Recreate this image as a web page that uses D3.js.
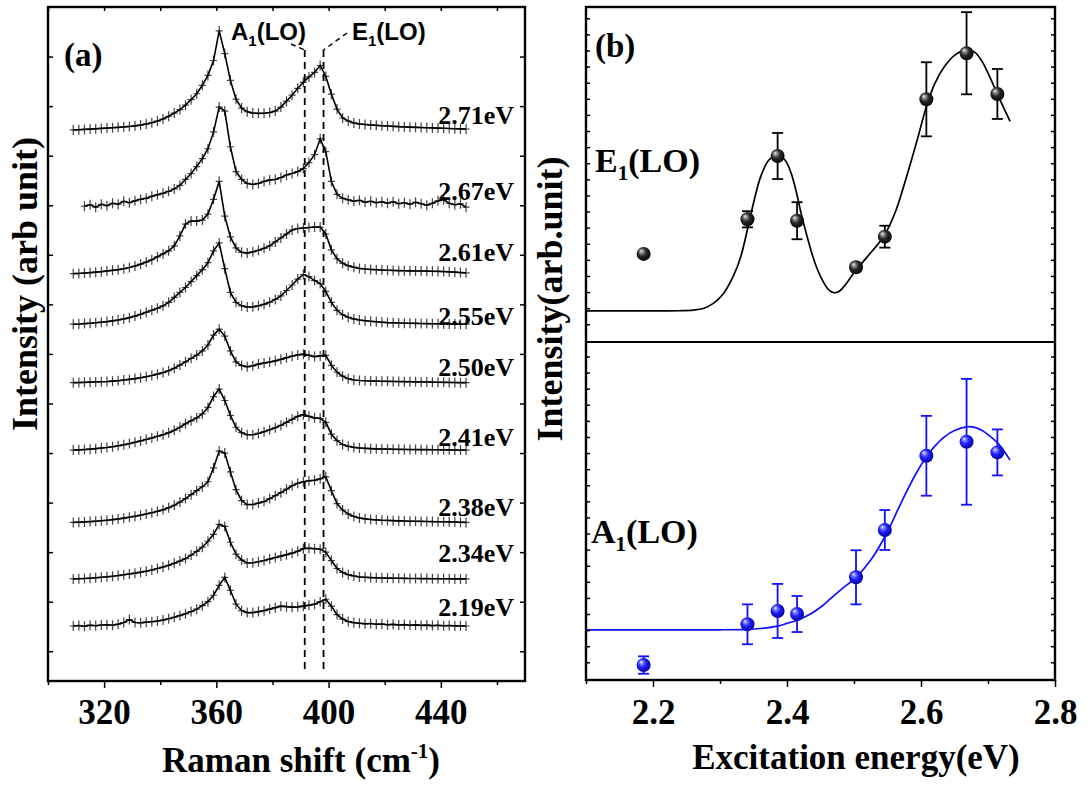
<!DOCTYPE html>
<html>
<head>
<meta charset="utf-8">
<script src="https://cdn.jsdelivr.net/npm/d3@7"></script>
<style>
  body { margin: 0; background: #fff; }
</style>
</head>
<body>
<svg id="chart" width="1091" height="785"></svg>
<script>
// ---- panel (a) data: Raman spectra, counts above each baseline ----
const ramanShift = [309,311,313,315,317,319,321,323,325,327,329,331,333,335,337,339,341,343,345,347,
  349,351,353,355,357,359,361,363,365,367,369,371,373,375,377,379,381,383,385,387,
  389,391,393,395,397,399,401,403,405,407,409,411,413,415,417,419,421,423,425,427,
  429,431,433,435,437,439,441,443,445,447,449];

const excitationLabels = ["2.71eV","2.67eV","2.61eV","2.55eV","2.50eV","2.41eV","2.38eV","2.34eV","2.19eV"];
const baselineOffsets = [5260, 4490, 3810, 3300, 2710, 2030, 1300, 730, 255];

const spec271 = [0,2,5,8,11,15,18,22,26,30, 35,41,49,59,72,89,110,138,170,205,
  250,305,365,450,550,700,1000,770,500,310, 220,183,170,167,168,175,190,230,290,350,
  420,480,535,580,650,540,360,210,120,90, 70,60,55,50,46,42,39,36,33,30,
  28,26,24,22,20,18,16,14,12,10, 9];
const spec267 = [null,null,0,15,-10,20,5,30,20,50, 35,55,70,80,100,115,130,150,175,210,
  270,330,400,480,580,750,1000,960,600,350, 270,230,220,230,250,265,270,290,315,330,
  350,380,440,520,680,550,250,120,80,65, 50,60,40,50,35,45,30,45,25,35,
  20,40,25,10,30,55,65,30,15,25, -10];
const spec261 = [0,2,6,10,15,20,27,33,40,50, 62,77,95,117,140,170,200,230,280,380,
  500,530,530,540,600,750,930,580,370,260, 215,207,220,235,255,280,320,360,400,440,
  455,460,465,470,470,400,240,150,105,80, 65,52,46,42,39,36,34,32,30,29,
  28,27,26,25,24,23,21,18,15,11, 8];
const spec255 = [0,2,6,10,15,20,26,33,42,53, 66,82,100,120,140,160,185,220,270,320,
  370,430,490,550,620,740,820,560,320,220, 185,173,175,185,200,220,250,285,340,395,
  455,500,480,440,410,330,220,140,95,70, 53,42,35,29,24,20,16,14,12,10,
  9,8,7,6,5,4,3,2,1,0, 0];
const spec250 = [0,1,3,5,7,9,11,15,20,26, 33,41,50,60,72,86,102,120,145,177,
  210,245,277,320,380,480,540,470,320,210, 172,160,170,187,198,208,220,235,252,267,
  280,287,275,263,270,275,175,105,65,40, 27,22,19,17,15,14,13,12,11,10,
  9,8,7,6,5,4,3,2,1,0, 0];
const spec241 = [0,2,5,9,14,20,26,34,43,53, 65,78,92,107,122,139,155,175,200,230,
  265,295,325,365,430,540,615,500,350,230, 175,155,155,168,185,205,225,250,280,310,
  340,357,340,325,320,280,160,95,55,38, 27,21,17,14,12,10,9,8,7,6,
  5,5,4,4,3,3,2,2,1,0, 0];
const spec238 = [0,2,5,8,12,17,22,28,35,43, 52,62,73,85,98,112,127,148,173,205,
  240,280,320,360,410,550,720,700,510,330, 220,180,180,195,210,240,270,300,335,370,
  395,410,420,425,440,460,320,190,125,85, 60,45,36,30,26,22,20,18,16,14,
  12,11,10,9,8,7,6,5,4,2, 0];
const spec234 = [0,2,4,7,11,16,21,27,34,42, 50,58,68,78,90,105,120,138,158,180,
  205,240,277,320,380,450,550,530,370,250, 190,160,163,173,185,200,215,230,245,260,
  280,305,310,305,300,270,185,105,65,43, 30,20,16,13,11,9,8,7,6,5,
  4,4,3,3,2,2,1,1,0,0, 0];
const spec219 = [0,5,-3,8,3,10,12,8,18,35, 65,35,32,38,43,50,60,73,88,105,
  123,145,170,205,245,310,410,490,360,220, 155,135,135,145,155,170,185,200,195,190,
  193,200,210,220,245,270,200,115,70,45, 33,27,22,25,18,20,13,16,10,14,
  8,11,6,9,4,7,3,5,1,3, 0];
const spectra = [spec271, spec267, spec261, spec255, spec250, spec241, spec238, spec234, spec219];

const ramanTicks = [320, 360, 400, 440];
const ramanMinorTicks = [300, 340, 380, 420, 460];
const modeShiftA1 = 391.5;
const modeShiftE1 = 398.2;

// ---- panel (b) data: resonance profiles ----
const energy = [2.186, 2.341, 2.386, 2.415, 2.503, 2.546, 2.608, 2.668, 2.714];
const intensityE1 = [4.37, 6.52, 10.45, 6.43, 3.54, 5.44, 13.97, 16.83, 14.30];
const errorE1 = [0, 0.5, 1.43, 1.15, 0.2, 0.68, 2.3, 2.55, 1.55];
const intensityA1 = [-0.17, 2.36, 3.19, 3.0, 5.28, 8.22, 12.83, 13.7, 13.04];
const errorA1 = [0.54, 1.24, 1.68, 1.12, 1.68, 1.24, 2.48, 3.91, 1.43];

const fitEnergyE1 = [2.10,2.20,2.24,2.26,2.275,2.29,2.305,2.32,2.331,2.341,2.351,2.361,2.373,2.386,2.397,
  2.406,2.414,2.421,2.431,2.441,2.452,2.462,2.470,2.478,2.488,2.500,2.52,2.545,2.562,2.578,2.594,2.608,
  2.62,2.635,2.65,2.668,2.68,2.69,2.70,2.715,2.725,2.733];
const fitE1 = [0.83,0.83,0.84,0.88,0.98,1.3,1.9,3.0,4.2,5.9,7.7,9.2,10.2,10.51,10.2,
  9.4,8.2,6.9,5.3,3.9,2.8,2.15,1.96,2.05,2.5,3.2,4.2,5.5,7.0,9.1,11.4,13.5,
  14.9,16.0,16.7,17.05,16.9,16.4,15.6,14.2,13.3,12.6];
const fitEnergyA1 = [2.10,2.20,2.30,2.341,2.36,2.386,2.40,2.416,2.435,2.451,2.465,2.481,2.503,2.525,
  2.546,2.57,2.59,2.608,2.62,2.635,2.65,2.668,2.68,2.69,2.70,2.715,2.733];
const fitA1 = [2.01,2.01,2.02,2.05,2.1,2.25,2.42,2.63,3.0,3.45,3.95,4.53,5.28,6.35,
  7.8,9.88,11.53,12.77,13.4,14.01,14.4,14.63,14.6,14.43,14.15,13.6,12.56];

const energyTicks = [2.2, 2.4, 2.6, 2.8];
const energyMinorTicks = [2.1, 2.3, 2.5, 2.7];

// ---- drawing ----
const serif = "'Liberation Serif','Times New Roman',serif";
const sans = "'Liberation Sans',Arial,sans-serif";
const blue = "#1010ff";

var svg = d3.select("#chart");
var defs = svg.append("defs");

function ballGradient(id, stops) {
  var g = defs.append("radialGradient").attr("id", id)
    .attr("cx", "45%").attr("cy", "45%").attr("r", "60%")
    .attr("fx", "32%").attr("fy", "28%");
  stops.forEach(s => g.append("stop").attr("offset", s[0]).attr("stop-color", s[1]));
}
ballGradient("ballBlack", [["0%", "#f4f4f4"], ["18%", "#9a9a9a"], ["50%", "#2a2a2a"], ["100%", "#000"]]);
ballGradient("ballBlue", [["0%", "#ffffff"], ["18%", "#8a8aff"], ["50%", "#1f1fff"], ["100%", "#00008c"]]);

function styleAxis(g, fontSize) {
  g.select(".domain").remove();
  g.selectAll(".tick line").attr("stroke", "#000").attr("stroke-width", 1.5);
  g.selectAll(".tick text")
    .attr("font-family", serif)
    .attr("font-size", fontSize)
    .attr("font-weight", "bold")
    .attr("fill", "#000");
}

// ===== panel (a) =====
var xA = d3.scaleLinear().domain([300, 470]).range([48, 525]);
var yA = d3.scaleLinear().domain([-300, 6500]).range([681, 7]);
var gA = svg.append("g");

var cross = "M-3.5,0H3.5M0,-5V5";
var spectrumLine = d3.line()
  .x(d => xA(d.x))
  .y(d => yA(d.y));

spectra.forEach(function (s, i) {
  var pts = ramanShift
    .map((x, j) => ({x: x, v: s[j]}))
    .filter(d => d.v != null)
    .map(d => ({x: d.x, y: baselineOffsets[i] + d.v}));

  gA.append("g")
    .selectAll("path")
    .data(pts)
    .join("path")
    .attr("d", cross)
    .attr("transform", d => "translate(" + xA(d.x) + "," + yA(d.y) + ")")
    .attr("stroke", "#444")
    .attr("stroke-width", 1.2)
    .attr("fill", "none");

  gA.append("path")
    .datum(pts)
    .attr("d", spectrumLine)
    .attr("fill", "none")
    .attr("stroke", "#000")
    .attr("stroke-width", 1.6);
});

// spectrum labels (text layout only)
var labelY = [115, 191, 252, 316, 367, 437, 507, 553, 607];
gA.selectAll(".elabel")
  .data(excitationLabels)
  .join("text")
  .attr("class", "elabel")
  .attr("x", 514)
  .attr("y", (d, i) => labelY[i])
  .attr("dy", "0.35em")
  .attr("text-anchor", "end")
  .attr("font-family", serif)
  .attr("font-weight", "bold")
  .attr("font-size", 26)
  .text(d => d);

// dashed mode markers
var dash = "7,5";
[modeShiftA1, modeShiftE1].forEach(function (m) {
  gA.append("line")
    .attr("x1", xA(m)).attr("x2", xA(m))
    .attr("y1", 50).attr("y2", 672)
    .attr("stroke", "#000").attr("stroke-width", 1.8)
    .attr("stroke-dasharray", dash);
});
gA.append("line")
  .attr("x1", 291).attr("y1", 44)
  .attr("x2", xA(modeShiftA1)).attr("y2", 50)
  .attr("stroke", "#000").attr("stroke-width", 1.5).attr("stroke-dasharray", "5,4");
gA.append("line")
  .attr("x1", 347).attr("y1", 33)
  .attr("x2", xA(modeShiftE1)).attr("y2", 50)
  .attr("stroke", "#000").attr("stroke-width", 1.5).attr("stroke-dasharray", "5,4");

function modeLabel(g, x, y, letter, size, subSize, shift, family, weight) {
  var t = g.append("text")
    .attr("x", x).attr("y", y)
    .attr("font-family", family)
    .attr("font-weight", weight)
    .attr("font-size", size);
  t.append("tspan").text(letter);
  t.append("tspan").attr("font-size", subSize).attr("dy", shift).text("1");
  t.append("tspan").attr("dy", -shift).text("(LO)");
  return t;
}
modeLabel(gA, 231, 40, "A", 24, 15, 6, sans, "bold");
modeLabel(gA, 352, 40, "E", 24, 15, 6, sans, "bold");

// axes of panel (a)
gA.append("g")
  .attr("transform", "translate(0,681)")
  .call(d3.axisBottom(xA).tickValues(ramanTicks).tickSize(7).tickPadding(11).tickFormat(d3.format("d")))
  .call(g => styleAxis(g, 35));
gA.append("g")
  .attr("transform", "translate(0,681)")
  .call(d3.axisBottom(xA).tickValues(ramanMinorTicks).tickSize(4).tickFormat(""))
  .call(g => styleAxis(g, 35));
gA.append("g")
  .attr("transform", "translate(0,7)")
  .call(d3.axisBottom(xA).tickValues(ramanTicks.concat(ramanMinorTicks)).tickSize(4).tickFormat(""))
  .call(g => styleAxis(g, 35));
var intensityTicks = d3.range(0, 6001, 500);
gA.append("g")
  .attr("transform", "translate(48,0)")
  .call(d3.axisRight(yA).tickValues(intensityTicks).tickSize(5).tickFormat(""))
  .call(g => styleAxis(g, 35));
gA.append("g")
  .attr("transform", "translate(525,0)")
  .call(d3.axisLeft(yA).tickValues(intensityTicks).tickSize(5).tickFormat(""))
  .call(g => styleAxis(g, 35));

gA.append("rect")
  .attr("x", 48).attr("y", 7)
  .attr("width", 477).attr("height", 674)
  .attr("fill", "none").attr("stroke", "#000").attr("stroke-width", 2.4);

gA.append("text")
  .attr("x", 64).attr("y", 66)
  .attr("font-family", serif).attr("font-weight", "bold").attr("font-size", 33)
  .text("(a)");

var xTitleA = gA.append("text")
  .attr("x", 301).attr("y", 772)
  .attr("text-anchor", "middle")
  .attr("font-family", serif).attr("font-weight", "bold").attr("font-size", 35);
xTitleA.append("tspan").text("Raman shift (cm");
xTitleA.append("tspan").attr("font-size", 21).attr("dy", -14).text("-1");
xTitleA.append("tspan").attr("dy", 14).text(")");

gA.append("text")
  .attr("transform", "translate(37,284) rotate(-90)")
  .attr("text-anchor", "middle")
  .attr("font-family", serif).attr("font-weight", "bold").attr("font-size", 36)
  .text("Intensity (arb unit)");

// ===== panel (b) =====
var xB = d3.scaleLinear().domain([2.1, 2.8]).range([586, 1055]);
var yE = d3.scaleLinear().domain([-1.1, 19.7]).range([342, 7]);
var yL = d3.scaleLinear().domain([-1.1, 19.9]).range([680, 342]);
var gB = svg.append("g");

function drawProfile(yScale, fitX, fitY, values, errors, color, fill) {
  var fit = fitX.map((x, i) => ({x: x, y: fitY[i]}));
  gB.append("path")
    .datum(fit)
    .attr("d", d3.line().x(d => xB(d.x)).y(d => yScale(d.y)).curve(d3.curveCatmullRom.alpha(0.5)))
    .attr("fill", "none")
    .attr("stroke", color)
    .attr("stroke-width", 1.7);

  var pts = energy.map((e, i) => ({x: e, y: values[i], err: errors[i]}));
  var bars = gB.append("g")
    .selectAll("g")
    .data(pts.filter(d => d.err > 0))
    .join("g")
    .attr("stroke", color)
    .attr("stroke-width", 1.8);
  bars.append("line")
    .attr("x1", d => xB(d.x)).attr("x2", d => xB(d.x))
    .attr("y1", d => yScale(d.y - d.err)).attr("y2", d => yScale(d.y + d.err));
  bars.append("line")
    .attr("x1", d => xB(d.x) - 5.5).attr("x2", d => xB(d.x) + 5.5)
    .attr("y1", d => yScale(d.y + d.err)).attr("y2", d => yScale(d.y + d.err));
  bars.append("line")
    .attr("x1", d => xB(d.x) - 5.5).attr("x2", d => xB(d.x) + 5.5)
    .attr("y1", d => yScale(d.y - d.err)).attr("y2", d => yScale(d.y - d.err));

  gB.append("g")
    .selectAll("circle")
    .data(pts)
    .join("circle")
    .attr("cx", d => xB(d.x))
    .attr("cy", d => yScale(d.y))
    .attr("r", 7)
    .attr("fill", fill);
}

drawProfile(yE, fitEnergyE1, fitE1, intensityE1, errorE1, "#000", "url(#ballBlack)");
drawProfile(yL, fitEnergyA1, fitA1, intensityA1, errorA1, blue, "url(#ballBlue)");

// axes of panel (b)
gB.append("g")
  .attr("transform", "translate(0,680)")
  .call(d3.axisBottom(xB).tickValues(energyTicks).tickSize(7).tickPadding(12).tickFormat(d3.format(".1f")))
  .call(g => styleAxis(g, 35));
gB.append("g")
  .attr("transform", "translate(0,680)")
  .call(d3.axisBottom(xB).tickValues(energyMinorTicks).tickSize(4).tickFormat(""))
  .call(g => styleAxis(g, 35));

var profileTicks = d3.range(0, 20, 1);
[[yE, profileTicks], [yL, profileTicks]].forEach(function (p) {
  gB.append("g")
    .attr("transform", "translate(586,0)")
    .call(d3.axisRight(p[0]).tickValues(p[1]).tickSize(4).tickFormat(""))
    .call(g => styleAxis(g, 35));
  gB.append("g")
    .attr("transform", "translate(1055,0)")
    .call(d3.axisLeft(p[0]).tickValues(p[1]).tickSize(4).tickFormat(""))
    .call(g => styleAxis(g, 35));
});

gB.append("rect")
  .attr("x", 586).attr("y", 7)
  .attr("width", 469).attr("height", 673)
  .attr("fill", "none").attr("stroke", "#000").attr("stroke-width", 2.4);
gB.append("line")
  .attr("x1", 586).attr("x2", 1055)
  .attr("y1", 342).attr("y2", 342)
  .attr("stroke", "#000").attr("stroke-width", 2);

gB.append("text")
  .attr("x", 595).attr("y", 57)
  .attr("font-family", serif).attr("font-weight", "bold").attr("font-size", 33)
  .text("(b)");

modeLabel(gB, 595, 172, "E", 34, 21, 8, serif, "bold");
modeLabel(gB, 591, 543, "A", 34, 21, 8, serif, "bold");

gB.append("text")
  .attr("x", 856).attr("y", 769)
  .attr("text-anchor", "middle")
  .attr("font-family", serif).attr("font-weight", "bold").attr("font-size", 35)
  .text("Excitation energy(eV)");

gB.append("text")
  .attr("transform", "translate(562,299) rotate(-90)")
  .attr("text-anchor", "middle")
  .attr("font-family", serif).attr("font-weight", "bold").attr("font-size", 36)
  .text("Intensity(arb.unit)");
</script>
</body>
</html>
